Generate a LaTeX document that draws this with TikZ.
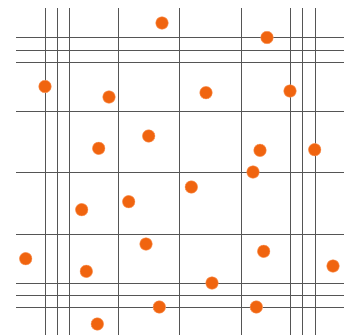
\documentclass[tikz,border=0pt]{standalone}
\definecolor{dotc}{RGB}{240,100,15}
\definecolor{dotb}{RGB}{250,150,90}
\definecolor{gridc}{RGB}{85,85,85}
\tikzset{
  gline/.style={draw=gridc, line width=1pt},
  pt/.style={circle, fill=dotc, draw=dotb, line width=0.5pt, minimum size=12.5pt, inner sep=0pt}
}
\begin{document}
\begin{tikzpicture}[x=1pt,y=-1pt]
\useasboundingbox[fill=white] (0,0) rectangle (346,335);
% vertical lines
\foreach \x [count=\i] in {45,57.3,69.3,118.3,179.7,241.3,290,302.3,315} {
  \coordinate (vt\i) at (\x,8);
  \coordinate (vb\i) at (\x,335);
  \draw[gline] (vt\i) -- (vb\i);
}
% horizontal lines
\foreach \y [count=\i] in {37.3,50,62,111,172,234,283,295,307} {
  \coordinate (hl\i) at (16,\y);
  \coordinate (hr\i) at (344,\y);
  \draw[gline] (hl\i) -- (hr\i);
}
% dots
\node[pt] (d1) at (162,23) {};
\node[pt] (d2) at (267,37.5) {};
\node[pt] (d3) at (45,86.5) {};
\node[pt] (d4) at (109,97) {};
\node[pt] (d5) at (206,92.7) {};
\node[pt] (d6) at (290,91) {};
\node[pt] (d7) at (148.7,136) {};
\node[pt] (d8) at (98.7,148.3) {};
\node[pt] (d9) at (260,150.3) {};
\node[pt] (d10) at (314.7,149.7) {};
\node[pt] (d11) at (253,172) {};
\node[pt] (d12) at (191.3,187) {};
\node[pt] (d13) at (128.7,201.7) {};
\node[pt] (d14) at (81.7,209.7) {};
\node[pt] (d15) at (146,244) {};
\node[pt] (d16) at (263.7,251.3) {};
\node[pt] (d17) at (25.7,258.7) {};
\node[pt] (d18) at (333,266) {};
\node[pt] (d19) at (86.3,271.3) {};
\node[pt] (d20) at (212,283) {};
\node[pt] (d21) at (159.3,307) {};
\node[pt] (d22) at (256.3,307) {};
\node[pt] (d23) at (97.3,324) {};
\end{tikzpicture}
\end{document}
